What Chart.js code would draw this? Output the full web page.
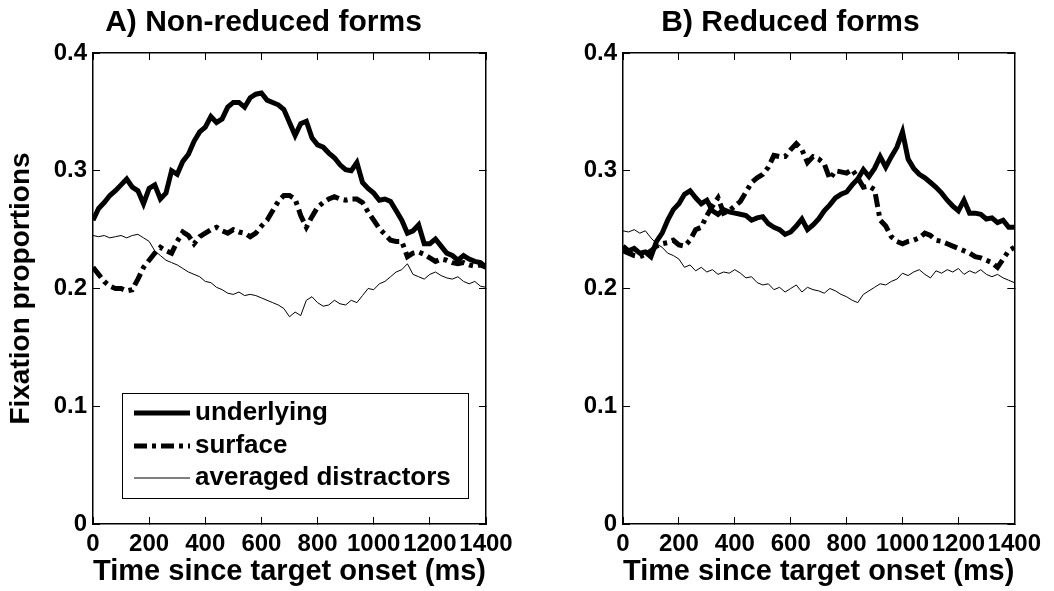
<!DOCTYPE html>
<html lang="en">
<head>
<meta charset="UTF-8">
<title>Fixation proportions</title>
<script src="https://cdn.jsdelivr.net/npm/chart.js"></script>
<style>
  body { margin: 0; background: #fff; }
  .wrap { position: absolute; top: 0; width: 527px; height: 591px; }
  #left { left: 0; }
  #right { left: 527px; }
</style>
</head>
<body>
<div class="wrap" id="left"><canvas id="chartA"></canvas></div>
<div class="wrap" id="right"><canvas id="chartB"></canvas></div>
<script>
// time since target onset (ms)
const times = [
  0, 20, 40, 60, 80, 100, 120, 140, 160, 180,
  200, 220, 240, 260, 280, 300, 320, 340, 360, 380,
  400, 420, 440, 460, 480, 500, 520, 540, 560, 580,
  600, 620, 640, 660, 680, 700, 720, 740, 760, 780,
  800, 820, 840, 860, 880, 900, 920, 940, 960, 980,
  1000, 1020, 1040, 1060, 1080, 1100, 1120, 1140, 1160, 1180,
  1200, 1220, 1240, 1260, 1280, 1300, 1320, 1340, 1360, 1380,
  1400
];

// A) non-reduced forms
const underlyingA = [
  0.258, 0.268, 0.273, 0.279, 0.283, 0.288, 0.293, 0.286, 0.283, 0.272,
  0.285, 0.288, 0.276, 0.281, 0.300, 0.297, 0.308, 0.314, 0.325, 0.333,
  0.337, 0.346, 0.341, 0.344, 0.354, 0.358, 0.358, 0.354, 0.362, 0.365,
  0.366, 0.360, 0.358, 0.356, 0.352, 0.341, 0.330, 0.340, 0.342, 0.328,
  0.322, 0.320, 0.315, 0.311, 0.305, 0.301, 0.300, 0.307, 0.290, 0.285,
  0.281, 0.275, 0.276, 0.274, 0.266, 0.258, 0.247, 0.249, 0.254, 0.238,
  0.238, 0.242, 0.236, 0.230, 0.228, 0.224, 0.228, 0.225, 0.223, 0.222,
  0.218
];
const surfaceA = [
  0.218, 0.212, 0.206, 0.202, 0.200, 0.200, 0.198, 0.199, 0.208, 0.218,
  0.224, 0.230, 0.235, 0.232, 0.230, 0.240, 0.248, 0.245, 0.238, 0.244,
  0.247, 0.250, 0.252, 0.249, 0.247, 0.250, 0.248, 0.247, 0.244, 0.247,
  0.253, 0.258, 0.266, 0.274, 0.279, 0.279, 0.276, 0.262, 0.252, 0.261,
  0.269, 0.273, 0.276, 0.278, 0.276, 0.275, 0.276, 0.276, 0.273, 0.265,
  0.258, 0.251, 0.246, 0.241, 0.240, 0.240, 0.227, 0.230, 0.231, 0.229,
  0.226, 0.223, 0.225, 0.224, 0.222, 0.221, 0.222, 0.220, 0.219, 0.220,
  0.218
];
const distractorsA = [
  0.245, 0.244, 0.245, 0.243, 0.244, 0.245, 0.243, 0.245, 0.246, 0.243,
  0.240, 0.232, 0.228, 0.224, 0.222, 0.220, 0.217, 0.214, 0.212, 0.210,
  0.206, 0.205, 0.201, 0.199, 0.196, 0.195, 0.197, 0.194, 0.195, 0.194,
  0.192, 0.190, 0.188, 0.186, 0.183, 0.176, 0.180, 0.177, 0.190, 0.193,
  0.188, 0.185, 0.186, 0.190, 0.187, 0.186, 0.190, 0.188, 0.194, 0.200,
  0.199, 0.204, 0.206, 0.210, 0.214, 0.216, 0.221, 0.212, 0.210, 0.208,
  0.212, 0.214, 0.211, 0.209, 0.208, 0.210, 0.206, 0.204, 0.206, 0.202,
  0.201
];

// B) reduced forms
const underlyingB = [
  0.236, 0.232, 0.234, 0.230, 0.231, 0.227, 0.240, 0.247, 0.258, 0.267,
  0.272, 0.280, 0.283, 0.277, 0.272, 0.275, 0.266, 0.263, 0.267, 0.265,
  0.264, 0.263, 0.262, 0.258, 0.260, 0.261, 0.255, 0.252, 0.250, 0.246,
  0.248, 0.253, 0.259, 0.250, 0.254, 0.259, 0.266, 0.271, 0.277, 0.280,
  0.282, 0.288, 0.293, 0.301, 0.295, 0.302, 0.312, 0.303, 0.312, 0.320,
  0.333, 0.310, 0.302, 0.297, 0.294, 0.290, 0.286, 0.281, 0.275, 0.270,
  0.266, 0.275, 0.264, 0.264, 0.263, 0.259, 0.260, 0.256, 0.258, 0.252,
  0.252
];
const surfaceB = [
  0.232, 0.230, 0.228, 0.227, 0.229, 0.232, 0.236, 0.238, 0.239, 0.241,
  0.237, 0.236, 0.241, 0.250, 0.252, 0.262, 0.270, 0.277, 0.264, 0.266,
  0.270, 0.274, 0.282, 0.290, 0.294, 0.297, 0.303, 0.313, 0.312, 0.312,
  0.318, 0.323, 0.318, 0.307, 0.312, 0.310, 0.306, 0.293, 0.300, 0.299,
  0.298, 0.301, 0.294, 0.286, 0.287, 0.284, 0.258, 0.253, 0.244, 0.240,
  0.238, 0.240, 0.241, 0.243, 0.247, 0.245, 0.241, 0.240, 0.238, 0.236,
  0.234, 0.232, 0.230, 0.227, 0.226, 0.224, 0.222, 0.218, 0.225, 0.232,
  0.235
];
const distractorsB = [
  0.249, 0.248, 0.250, 0.247, 0.249, 0.243, 0.238, 0.235, 0.230, 0.228,
  0.225, 0.218, 0.220, 0.215, 0.218, 0.214, 0.216, 0.212, 0.214, 0.213,
  0.216, 0.213, 0.209, 0.210, 0.205, 0.203, 0.204, 0.199, 0.201, 0.197,
  0.200, 0.203, 0.197, 0.201, 0.199, 0.198, 0.196, 0.200, 0.198, 0.195,
  0.193, 0.190, 0.188, 0.195, 0.198, 0.201, 0.204, 0.203, 0.206, 0.208,
  0.213, 0.211, 0.214, 0.216, 0.212, 0.209, 0.215, 0.213, 0.216, 0.214,
  0.217, 0.212, 0.215, 0.213, 0.216, 0.212, 0.210, 0.212, 0.209, 0.207,
  0.205
];

const xTicks = [0, 200, 400, 600, 800, 1000, 1200, 1400];
const yTicks = [0, 0.1, 0.2, 0.3, 0.4];
const seriesLabels = ['underlying', 'surface', 'averaged distractors'];

const FONT = '"Liberation Sans", Arial, Helvetica, sans-serif';

// legend drawn as a boxed key inside the plot, like the matlab one
const boxLegend = {
  id: 'boxLegend',
  afterDraw(chart, args, opts) {
    if (!opts.show) return;
    const ctx = chart.ctx;
    const a = chart.chartArea;
    const x0 = a.left + 29, x1 = a.right - 18;
    const y1 = a.bottom - 26, y0 = y1 - 105;
    ctx.save();
    ctx.fillStyle = '#fff';
    ctx.fillRect(x0, y0, x1 - x0, y1 - y0);
    ctx.strokeStyle = '#000';
    ctx.lineWidth = 1;
    ctx.strokeRect(x0 + 0.5, y0 + 0.5, x1 - x0, y1 - y0);
    ctx.font = 'bold 26px ' + FONT;
    ctx.textBaseline = 'middle';
    ctx.textAlign = 'left';
    const rows = [20, 53, 85];
    chart.data.datasets.forEach((ds, i) => {
      const y = y0 + rows[i];
      ctx.beginPath();
      ctx.setLineDash(ds.borderDash || []);
      ctx.lineWidth = ds.borderWidth;
      ctx.lineCap = 'butt';
      ctx.moveTo(x0 + 12, y);
      ctx.lineTo(x0 + 68, y);
      ctx.stroke();
      ctx.setLineDash([]);
      ctx.fillStyle = '#000';
      ctx.fillText(ds.label, x0 + 73, y);
    });
    ctx.restore();
  }
};

function pts(arr) {
  return times.map((t, i) => ({ x: t, y: arr[i] }));
}

function setTicks(list) {
  return scale => { scale.ticks = list.map(v => ({ value: v })); };
}

function makeChart(id, title, u, s, d, o) {
  const gridOpts = { drawOnChartArea: false, tickLength: -7, color: '#000', lineWidth: 1 };
  const borderOpts = { display: true, color: '#000', width: 1.5 };
  return new Chart(document.getElementById(id), {
    type: 'line',
    data: {
      datasets: [
        { label: seriesLabels[0], data: pts(u), borderColor: '#000', borderWidth: 5,
          pointRadius: 0, tension: 0, xAxisID: 'x', yAxisID: 'y' },
        { label: seriesLabels[1], data: pts(s), borderColor: '#000', borderWidth: 5,
          borderDash: [13, 5, 4, 5], pointRadius: 0, tension: 0, xAxisID: 'x', yAxisID: 'y' },
        { label: seriesLabels[2], data: pts(d), borderColor: '#000', borderWidth: 1,
          pointRadius: 0, tension: 0, xAxisID: 'x', yAxisID: 'y' }
      ]
    },
    options: {
      responsive: true,
      maintainAspectRatio: false,
      animation: false,
      layout: { padding: 0 },
      plugins: {
        legend: { display: false },
        tooltip: { enabled: false },
        title: {
          display: true, text: title, color: '#000',
          font: { family: FONT, size: 30, weight: 'bold' },
          padding: { top: 5, bottom: 12 }
        },
        boxLegend: { show: o.legend }
      },
      scales: {
        x: {
          type: 'linear', axis: 'x', position: 'bottom', min: 0, max: 1400,
          afterBuildTicks: setTicks(xTicks),
          afterFit: sc => { sc.height = 67; },
          grid: gridOpts, border: borderOpts,
          ticks: { autoSkip: false, maxRotation: 0, padding: 13, color: '#000',
                   callback: v => String(v),
                   font: { family: FONT, size: 24, weight: 'bold' } },
          title: { display: true, text: 'Time since target onset (ms)', color: '#000',
                   font: { family: FONT, size: 30, weight: 'bold' },
                   padding: { top: 0, bottom: 1 } }
        },
        x2: {
          type: 'linear', axis: 'x', position: 'top', min: 0, max: 1400,
          afterBuildTicks: setTicks(xTicks),
          afterFit: sc => { sc.height = 0; },
          grid: gridOpts, border: borderOpts,
          ticks: { display: false }
        },
        y: {
          type: 'linear', axis: 'y', position: 'left', min: 0, max: 0.4,
          afterBuildTicks: setTicks(yTicks),
          afterFit: sc => { sc.width = o.yWidth; },
          grid: gridOpts, border: borderOpts,
          ticks: { padding: 13, color: '#000', callback: v => String(v),
                   font: { family: FONT, size: 24, weight: 'bold' } },
          title: { display: o.yTitle, text: 'Fixation proportions', color: '#000',
                   font: { family: FONT, size: 28, weight: 'bold' },
                   padding: { top: 4, bottom: 0 } }
        },
        y2: {
          type: 'linear', axis: 'y', position: 'right', min: 0, max: 0.4,
          afterBuildTicks: setTicks(yTicks),
          afterFit: sc => { sc.width = o.rightPad; },
          grid: gridOpts, border: borderOpts,
          ticks: { display: false }
        }
      }
    },
    plugins: [boxLegend]
  });
}

makeChart('chartA', 'A) Non-reduced forms', underlyingA, surfaceA, distractorsA,
  { legend: true, yTitle: true, yWidth: 93, rightPad: 41 });
makeChart('chartB', 'B) Reduced forms', underlyingB, surfaceB, distractorsB,
  { legend: false, yTitle: false, yWidth: 96, rightPad: 28 });
</script>
</body>
</html>
